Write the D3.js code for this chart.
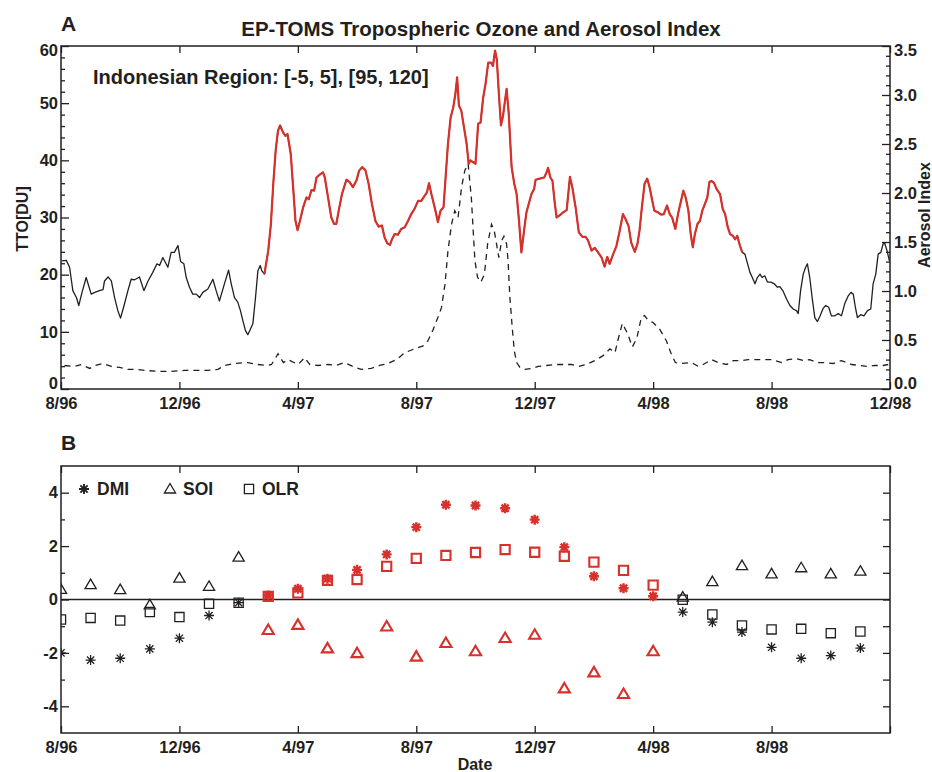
<!DOCTYPE html>
<html>
<head>
<meta charset="utf-8">
<script src="https://cdn.jsdelivr.net/npm/d3@7"></script>
<style>
  body { margin: 0; background: #fff; }
</style>
</head>
<body>
<div id="chart"></div>
<script>
//------------------------------DATA------------------------------//
// x positions are months after 8/96
const tickMonths = [0, 4, 8, 12, 16, 20, 24, 28];
const tickLabelsA = ["8/96", "12/96", "4/97", "8/97", "12/97", "4/98", "8/98", "12/98"];
const tickLabelsB = ["8/96", "12/96", "4/97", "8/97", "12/97", "4/98", "8/98", ""];

// tropospheric ozone [DU]
const ttoMonth = [0.03,0.18,0.29,0.40,0.52,0.60,0.71,0.85,1.02,1.14,1.30,1.42,1.47,1.59,1.70,1.81,1.92,2.01,2.13,2.26,
  2.37,2.49,2.65,2.80,2.94,3.10,3.24,3.33,3.44,3.61,3.72,3.83,3.95,4.04,4.15,4.23,4.34,4.45,4.57,4.68,
  4.79,4.96,5.13,5.24,5.35,5.52,5.66,5.75,5.86,5.97,6.06,6.14,6.23,6.31,6.40,6.48,6.57,6.65,6.73,6.78,
  6.87,7.00,7.09,7.17,7.25,7.33,7.40,7.50,7.58,7.65,7.76,7.84,7.92,7.99,8.07,8.18,8.29,8.37,8.46,8.55,
  8.63,8.74,8.85,8.91,9.02,9.13,9.22,9.30,9.38,9.49,9.64,9.75,9.86,9.98,10.07,10.17,10.28,10.39,10.50,10.62,
  10.73,10.84,10.93,11.02,11.11,11.18,11.27,11.38,11.49,11.61,11.72,11.83,11.94,12.06,12.17,12.28,12.36,12.43,12.51,12.62,
  12.73,12.82,12.92,12.99,13.07,13.16,13.25,13.32,13.38,13.44,13.52,13.61,13.70,13.77,13.83,13.91,14.00,14.09,14.17,14.26,
  14.34,14.43,14.52,14.59,14.66,14.72,14.79,14.86,14.93,15.05,15.12,15.22,15.31,15.39,15.47,15.55,15.64,15.72,15.80,15.89,
  15.98,16.03,16.17,16.32,16.40,16.45,16.53,16.60,16.68,16.74,16.85,16.96,17.08,17.19,17.27,17.38,17.49,17.61,17.72,17.80,
  17.92,18.03,18.14,18.26,18.36,18.45,18.53,18.65,18.76,18.87,18.98,19.07,19.17,19.26,19.38,19.47,19.54,19.62,19.71,19.80,
  19.88,19.96,20.04,20.16,20.27,20.36,20.47,20.56,20.64,20.75,20.84,20.94,21.02,21.10,21.19,21.27,21.34,21.41,21.50,21.58,
  21.66,21.75,21.83,21.90,21.97,22.06,22.14,22.26,22.35,22.43,22.52,22.60,22.69,22.77,22.84,22.93,23.01,23.10,23.19,23.27,
  23.35,23.44,23.52,23.61,23.68,23.77,23.86,23.98,24.09,24.20,24.28,24.39,24.51,24.62,24.73,24.84,24.90,24.98,25.07,25.15,
  25.21,25.29,25.37,25.46,25.55,25.64,25.74,25.83,25.93,26.02,26.14,26.25,26.36,26.47,26.59,26.68,26.76,26.83,26.90,27.01,
  27.12,27.24,27.35,27.43,27.52,27.60,27.69,27.77,27.82,27.90,27.98];
const ttoValue = [22.4,22.5,21.3,17.2,16.0,14.6,16.9,19.5,16.6,16.9,17.2,17.4,18.9,19.6,18.9,16.0,13.7,12.4,14.6,17.2,
  19.2,19.1,19.6,17.2,18.9,20.4,21.9,21.6,23.0,21.3,23.9,23.9,25.1,22.3,21.9,19.5,17.8,16.6,16.6,16.0,
  16.9,17.5,19.2,17.2,15.4,18.4,20.8,18.4,16.0,15.2,13.7,12.0,10.2,9.5,10.5,11.4,16.0,20.7,21.6,20.7,
  20.1,24.2,28.9,35.9,41.7,45.2,46.1,44.9,44.3,44.6,41.1,35.3,29.4,27.8,29.4,31.8,33.5,33.2,34.8,34.7,
  37.0,37.5,37.9,37.0,33.5,30.0,28.9,28.9,31.2,34.1,36.6,36.2,35.3,36.5,38.2,38.8,38.3,35.9,32.4,29.4,
  28.4,28.6,26.5,25.5,25.2,26.2,27.1,27.0,28.0,28.3,29.4,30.6,31.5,32.9,32.9,33.8,34.4,36.0,34.1,31.8,
  29.2,31.2,31.8,37.0,42.9,47.5,49.3,51.6,54.5,49.6,48.7,45.8,42.9,39.4,40.0,39.7,39.4,46.4,46.6,51.0,
  53.4,57.1,57.1,56.5,59.2,57.7,51.6,46.1,47.8,52.5,48.4,38.8,35.9,34.1,29.4,23.9,27.7,30.9,32.4,34.1,
  35.0,36.6,36.8,37.0,37.9,38.7,37.0,36.4,32.4,30.0,30.4,30.9,31.3,37.1,35.3,31.8,27.4,26.6,26.6,26.0,
  24.2,24.7,23.9,23.0,21.4,23.1,21.9,23.6,25.0,27.7,30.6,29.7,28.5,25.6,24.0,25.4,27.7,31.8,35.9,36.8,
  35.3,33.2,31.2,30.9,30.5,30.6,32.1,30.6,30.0,28.0,30.6,32.9,34.7,33.5,31.2,27.1,24.8,27.1,28.9,29.4,
  31.2,32.4,33.5,36.2,36.4,36.0,35.0,34.1,31.5,30.6,28.3,27.1,26.8,26.2,26.8,25.1,23.9,23.6,21.9,20.4,
  19.5,18.4,19.5,20.1,19.5,19.8,18.7,18.7,18.4,17.8,17.9,17.1,15.7,14.6,14.0,13.7,13.2,17.2,20.1,21.3,
  21.9,19.5,16.0,12.5,11.8,12.8,14.1,14.6,14.3,12.8,12.8,13.2,12.8,14.9,16.3,16.9,16.6,14.3,12.5,13.0,
  12.8,13.7,14.0,18.4,20.1,23.6,23.9,25.4,25.5,24.2,22.4];
// red part of the TTO curve (months)
const redStart = 6.87, redEnd = 23.01;

// aerosol index
const aiMonth = [0.12,0.46,0.69,0.97,1.14,1.42,1.70,1.98,2.26,2.54,2.82,3.27,3.72,4.17,4.51,4.96,5.30,5.52,5.86,6.31,
  6.65,6.98,7.11,7.33,7.51,7.67,8.01,8.23,8.40,8.68,9.02,9.30,9.58,9.86,10.14,10.48,10.76,11.04,11.33,11.61,
  11.94,12.23,12.39,12.56,12.73,12.85,12.97,13.07,13.19,13.30,13.41,13.53,13.64,13.75,13.86,13.98,14.07,14.18,14.30,14.41,
  14.54,14.63,14.71,14.79,14.88,14.96,15.05,15.10,15.16,15.24,15.31,15.39,15.50,15.67,15.89,16.12,16.40,16.68,16.96,17.24,
  17.47,17.75,18.03,18.31,18.54,18.71,18.82,18.96,19.13,19.30,19.45,19.60,19.71,19.83,19.99,20.22,20.45,20.61,20.75,20.90,
  21.30,21.53,21.69,21.97,22.20,22.48,22.71,22.99,23.21,23.49,23.77,24.00,24.34,24.56,24.84,25.07,25.29,25.52,25.80,26.08,
  26.36,26.70,26.98,27.26,27.49,27.77,27.94];
const aiValue = [0.24,0.23,0.25,0.21,0.24,0.26,0.23,0.22,0.20,0.20,0.19,0.18,0.18,0.19,0.19,0.19,0.20,0.24,0.26,0.27,
  0.25,0.24,0.25,0.36,0.27,0.30,0.25,0.32,0.25,0.24,0.25,0.24,0.27,0.23,0.20,0.21,0.24,0.26,0.30,0.37,
  0.41,0.44,0.49,0.60,0.73,0.83,1.07,1.41,1.68,1.82,1.75,2.06,2.23,2.30,1.95,1.31,1.14,1.09,1.17,1.48,
  1.68,1.62,1.48,1.34,1.51,1.56,1.48,1.31,0.94,0.63,0.39,0.27,0.22,0.20,0.21,0.23,0.24,0.25,0.25,0.25,
  0.23,0.25,0.29,0.34,0.41,0.37,0.51,0.67,0.57,0.43,0.52,0.73,0.75,0.70,0.68,0.61,0.49,0.36,0.27,0.26,
  0.27,0.23,0.25,0.30,0.27,0.25,0.29,0.29,0.30,0.30,0.30,0.30,0.27,0.30,0.31,0.29,0.30,0.27,0.27,0.26,
  0.29,0.25,0.24,0.23,0.24,0.24,0.25];

// monthly climate indices, 8/96 .. 11/98
const indexMonth = [0,1,2,3,4,5,6,7,8,9,10,11,12,13,14,15,16,17,18,19,20,21,22,23,24,25,26,27];
const dmi = [-2.0,-2.27,-2.2,-1.85,-1.45,-0.6,-0.12,0.15,0.4,0.78,1.11,1.69,2.71,3.55,3.52,3.42,2.99,1.96,0.87,0.42,
  0.12,-0.47,-0.85,-1.22,-1.79,-2.2,-2.1,-1.82];
const soi = [0.38,0.56,0.37,-0.2,0.8,0.49,1.59,-1.14,-0.95,-1.83,-2.01,-1.01,-2.14,-1.63,-1.94,-1.44,-1.32,-3.33,-2.73,-3.54,
  -1.94,0.09,0.67,1.27,0.96,1.19,0.96,1.06];
const olr = [-0.75,-0.69,-0.79,-0.47,-0.66,-0.16,-0.12,0.12,0.25,0.72,0.75,1.24,1.54,1.65,1.76,1.87,1.77,1.62,1.4,1.09,
  0.54,-0.01,-0.56,-0.97,-1.12,-1.1,-1.26,-1.2];
const redFirst = 7, redLast = 20;   // 3/97 .. 4/98 drawn in red

//---------------------------PREPARATION---------------------------//
const width = 932, height = 772;
const left = 61, right = 890;
const aTop = 46, aBot = 389;
const bTop = 466, bBot = 733;
const ink = "#231f20", red = "#d7312b";
const FONT = "'Liberation Sans', Arial, Helvetica, sans-serif";

const svg = d3.select("#chart").append("svg")
    .attr("width", width)
    .attr("height", height)
    .style("background", "#fff");

const x = d3.scaleLinear().domain([0, 28]).range([left, right]);
const yTto = d3.scaleLinear().domain([0, 60]).range([aBot, aTop]);
const yAi = d3.scaleLinear().domain([0, 3.5]).range([aBot, aTop]);
const yIdx = d3.scaleLinear().domain([-5, 5]).range([bBot, bTop]);

function drawAxis(axis, tx, ty) {
    const g = svg.append("g")
        .attr("transform", "translate(" + tx + "," + ty + ")")
        .call(axis)
        .attr("font-family", FONT)
        .attr("font-size", 16.5)
        .attr("font-weight", "bold");
    g.select(".domain").remove();
    g.selectAll("line").attr("stroke", ink).attr("stroke-width", 1.3);
    g.selectAll("text").attr("fill", ink);
    return g;
}

function label(txt, px, py, size, anchor, rot) {
    return svg.append("text")
        .attr("transform", "translate(" + px + "," + py + ")" + (rot ? " rotate(" + rot + ")" : ""))
        .attr("text-anchor", anchor || "start")
        .attr("font-family", FONT)
        .attr("font-weight", "bold")
        .attr("font-size", size)
        .attr("fill", ink)
        .text(txt);
}

//-----------------------------PANEL A-----------------------------//
drawAxis(d3.axisBottom(x).tickValues(tickMonths).tickFormat((d, i) => tickLabelsA[i])
    .tickSize(-7).tickPadding(8), 0, aBot);
drawAxis(d3.axisTop(x).tickValues(tickMonths).tickFormat("").tickSize(-7), 0, aTop);

const ttoMajor = [0, 10, 20, 30, 40, 50, 60];
const ttoMinor = d3.range(2, 60, 2).filter(d => d % 10 !== 0);
const gl = drawAxis(d3.axisLeft(yTto).tickValues(ttoMajor).tickSize(-8).tickPadding(3), left, 0);
drawAxis(d3.axisLeft(yTto).tickValues(ttoMinor).tickFormat("").tickSize(-4), left, 0);

const aiMajor = [0, 0.5, 1, 1.5, 2, 2.5, 3, 3.5];
const aiMinor = d3.range(1, 35).filter(d => d % 5 !== 0).map(d => d / 10);
const gr = drawAxis(d3.axisRight(yAi).tickValues(aiMajor).tickFormat(d3.format(".1f")).tickSize(-8).tickPadding(4), right, 0);
drawAxis(d3.axisRight(yAi).tickValues(aiMinor).tickFormat("").tickSize(-4), right, 0);

// end labels sit a little inside the frame
gl.selectAll("text").attr("y", d => d === 0 ? -6 : (d === 60 ? 4 : 0));
gr.selectAll("text").attr("y", d => d === 0 ? -6 : (d === 3.5 ? 4 : 0));

svg.append("rect")
    .attr("x", left).attr("y", aTop)
    .attr("width", right - left).attr("height", aBot - aTop)
    .attr("fill", "none").attr("stroke", ink).attr("stroke-width", 1.5);

const ttoData = ttoMonth.map((m, i) => ({ m: m, v: ttoValue[i] }));
const aiData = aiMonth.map((m, i) => ({ m: m, v: aiValue[i] }));

const ttoLine = d3.line().x(d => x(d.m)).y(d => yTto(d.v));
const aiLine = d3.line().x(d => x(d.m)).y(d => yAi(d.v));

svg.append("path")
    .attr("d", aiLine(aiData))
    .attr("fill", "none").attr("stroke", ink).attr("stroke-width", 1.3)
    .attr("stroke-dasharray", "6,5");

svg.append("path")
    .attr("d", ttoLine(ttoData))
    .attr("fill", "none").attr("stroke", ink).attr("stroke-width", 1.3)
    .attr("stroke-linejoin", "round");

svg.append("path")
    .attr("d", ttoLine(ttoData.filter(d => d.m >= redStart && d.m <= redEnd)))
    .attr("fill", "none").attr("stroke", red).attr("stroke-width", 2.2)
    .attr("stroke-linejoin", "round");

label("A", left, 31, 21);
label("EP-TOMS Tropospheric Ozone and Aerosol Index", 481, 36, 20.5, "middle");
label("Indonesian Region: [-5, 5], [95, 120]", 93, 84, 20);
label("TTO[DU]", 28, 219, 16, "middle", -90);
label("Aerosol Index", 930, 215, 16, "middle", -90);

//-----------------------------PANEL B-----------------------------//
drawAxis(d3.axisBottom(x).tickValues(tickMonths).tickFormat((d, i) => tickLabelsB[i])
    .tickSize(-7).tickPadding(8), 0, bBot);
drawAxis(d3.axisTop(x).tickValues(tickMonths).tickFormat("").tickSize(-7), 0, bTop);
drawAxis(d3.axisLeft(yIdx).tickValues([-4, -2, 0, 2, 4]).tickFormat(d => String(d))
    .tickSize(-8).tickPadding(3), left, 0);
drawAxis(d3.axisLeft(yIdx).tickValues([-3, -1, 1, 3]).tickFormat("").tickSize(-4), left, 0);
drawAxis(d3.axisRight(yIdx).tickValues([-4, -3, -2, -1, 0, 1, 2, 3, 4]).tickFormat("").tickSize(-7), right, 0);

svg.append("line")
    .attr("x1", left).attr("x2", right)
    .attr("y1", yIdx(0)).attr("y2", yIdx(0))
    .attr("stroke", ink).attr("stroke-width", 1.3);

svg.append("rect")
    .attr("x", left).attr("y", bTop)
    .attr("width", right - left).attr("height", bBot - bTop)
    .attr("fill", "none").attr("stroke", ink).attr("stroke-width", 1.5);

svg.append("clipPath").attr("id", "clipB")
    .append("rect")
    .attr("x", left).attr("y", bTop)
    .attr("width", right - left).attr("height", bBot - bTop);

function markerPath(type, cx, cy) {
    if (type === "ast") {
        const r = 5, q = 3.6;
        return "M" + (cx - r) + "," + cy + "H" + (cx + r) +
            "M" + cx + "," + (cy - r) + "V" + (cy + r) +
            "M" + (cx - q) + "," + (cy - q) + "L" + (cx + q) + "," + (cy + q) +
            "M" + (cx - q) + "," + (cy + q) + "L" + (cx + q) + "," + (cy - q);
    }
    if (type === "tri") {
        return "M" + cx + "," + (cy - 5.5) + "L" + (cx + 5.6) + "," + (cy + 4) +
            "L" + (cx - 5.6) + "," + (cy + 4) + "Z";
    }
    return "M" + (cx - 4.6) + "," + (cy - 4.6) + "h9.2v9.2h-9.2Z";
}

const gPts = svg.append("g").attr("clip-path", "url(#clipB)");
const series = [
    { type: "ast", values: dmi },
    { type: "tri", values: soi },
    { type: "sq", values: olr }
];
series.forEach(function(s) {
    gPts.selectAll(null)
        .data(indexMonth)
        .enter()
        .append("path")
        .attr("d", (m, i) => markerPath(s.type, x(m), yIdx(s.values[i])))
        .attr("fill", "none")
        .attr("stroke", m => (m >= redFirst && m <= redLast) ? red : ink)
        .attr("stroke-width", m => (m >= redFirst && m <= redLast) ? (s.type === "ast" ? 2.4 : 2.1) : 1.3);
});

// legend
const legendItems = [
    { type: "ast", name: "DMI", px: 84 },
    { type: "tri", name: "SOI", px: 170 },
    { type: "sq", name: "OLR", px: 249 }
];
legendItems.forEach(function(l) {
    svg.append("path")
        .attr("d", markerPath(l.type, l.px, 489))
        .attr("fill", "none").attr("stroke", ink)
        .attr("stroke-width", l.type === "ast" ? 1.9 : 1.3);
    label(l.name, l.px + 13, 495, 17.5);
});

label("B", left, 450, 21);
label("Date", 475, 770, 16, "middle");
</script>
</body>
</html>
